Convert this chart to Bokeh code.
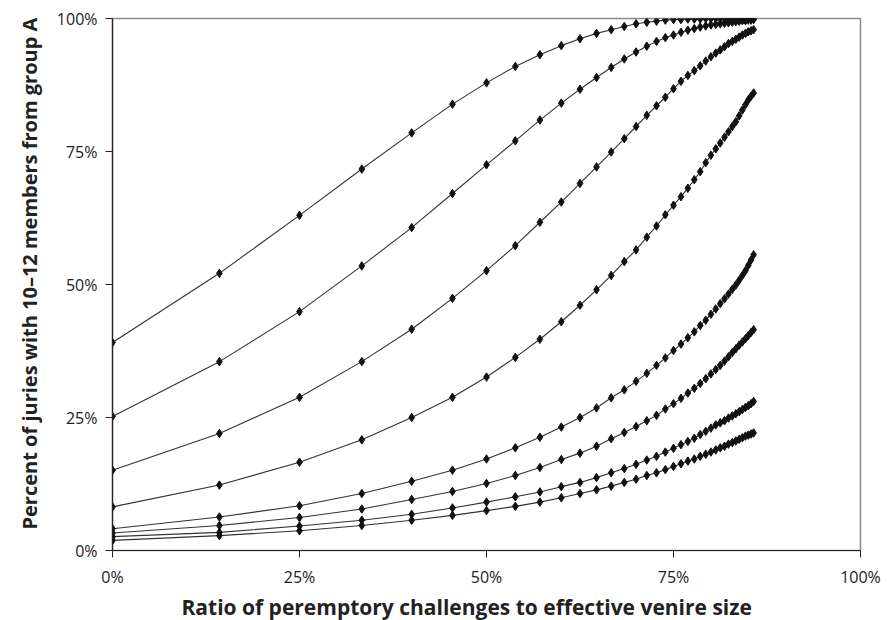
from bokeh.plotting import figure
from bokeh.models import NumeralTickFormatter, FixedTicker, ColumnDataSource, Range1d, Title
from bokeh.embed import file_html
from bokeh.resources import INLINE

# x: ratio of peremptory challenges to effective venire size
ratio = [0, 0.1429, 0.25, 0.3333, 0.4, 0.4545, 0.5, 0.5385, 0.5714, 0.6,
         0.625, 0.6471, 0.6667, 0.6842, 0.7, 0.7143, 0.7273, 0.7391, 0.75, 0.76,
         0.7692, 0.7778, 0.7857, 0.7931, 0.8, 0.8065, 0.8125, 0.8182, 0.8235, 0.8286,
         0.8333, 0.8378, 0.8421, 0.8462, 0.85, 0.8537, 0.8571]

curve_1 = [0.391, 0.521, 0.630, 0.717, 0.785, 0.839, 0.879, 0.910, 0.932, 0.949,
           0.962, 0.972, 0.979, 0.985, 0.990, 0.993, 0.995, 0.997, 0.998, 0.998,
           0.999, 0.999, 0.999, 1.0, 1.0, 1.0, 1.0, 1.0, 1.0, 1.0,
           1.0, 1.0, 1.0, 1.0, 1.0, 1.0, 1.0]
curve_2 = [0.252, 0.355, 0.449, 0.535, 0.607, 0.671, 0.725, 0.770, 0.809, 0.841,
           0.867, 0.889, 0.908, 0.924, 0.937, 0.948, 0.957, 0.964, 0.969, 0.974,
           0.978, 0.981, 0.984, 0.986, 0.988, 0.989, 0.990, 0.991, 0.992, 0.993,
           0.994, 0.995, 0.996, 0.996, 0.997, 0.997, 0.998]
curve_3 = [0.151, 0.220, 0.288, 0.355, 0.416, 0.474, 0.526, 0.573, 0.617, 0.655,
           0.690, 0.721, 0.749, 0.774, 0.797, 0.818, 0.836, 0.852, 0.868, 0.882,
           0.893, 0.902, 0.911, 0.920, 0.928, 0.935, 0.941, 0.947, 0.953, 0.957,
           0.961, 0.965, 0.969, 0.972, 0.975, 0.977, 0.979]
curve_4 = [0.082, 0.123, 0.166, 0.208, 0.250, 0.288, 0.326, 0.363, 0.397, 0.430,
           0.461, 0.490, 0.517, 0.543, 0.565, 0.589, 0.610, 0.631, 0.649, 0.665,
           0.681, 0.697, 0.712, 0.729, 0.743, 0.755, 0.766, 0.777, 0.787, 0.797,
           0.806, 0.817, 0.828, 0.838, 0.847, 0.854, 0.860]
curve_5 = [0.041, 0.063, 0.084, 0.107, 0.130, 0.151, 0.172, 0.193, 0.213, 0.232,
           0.250, 0.268, 0.287, 0.302, 0.318, 0.333, 0.348, 0.362, 0.376, 0.388,
           0.400, 0.411, 0.423, 0.433, 0.444, 0.454, 0.464, 0.473, 0.482, 0.491,
           0.499, 0.508, 0.517, 0.526, 0.536, 0.546, 0.556]
curve_6 = [0.033, 0.047, 0.062, 0.078, 0.096, 0.111, 0.126, 0.141, 0.156, 0.171,
           0.183, 0.196, 0.210, 0.222, 0.233, 0.244, 0.254, 0.266, 0.276, 0.286,
           0.296, 0.305, 0.314, 0.323, 0.332, 0.340, 0.348, 0.356, 0.364, 0.372,
           0.379, 0.386, 0.392, 0.398, 0.404, 0.410, 0.415]
curve_7 = [0.026, 0.034, 0.046, 0.057, 0.068, 0.080, 0.091, 0.101, 0.110, 0.120,
           0.128, 0.137, 0.146, 0.154, 0.162, 0.170, 0.177, 0.185, 0.192, 0.199,
           0.205, 0.211, 0.218, 0.224, 0.230, 0.236, 0.240, 0.244, 0.249, 0.253,
           0.257, 0.261, 0.265, 0.269, 0.272, 0.276, 0.280]
curve_8 = [0.019, 0.028, 0.037, 0.047, 0.057, 0.066, 0.075, 0.083, 0.091, 0.099,
           0.107, 0.114, 0.121, 0.128, 0.134, 0.141, 0.146, 0.152, 0.158, 0.163,
           0.168, 0.172, 0.177, 0.181, 0.185, 0.189, 0.193, 0.196, 0.200, 0.203,
           0.206, 0.209, 0.212, 0.215, 0.217, 0.219, 0.221]

x_ticks = [0, 0.25, 0.5, 0.75, 1.0]
y_ticks = [0, 0.25, 0.5, 0.75, 1.0]

FONT = "Open Sans"

p = figure(width=889, height=620, output_backend="svg", toolbar_location=None,
           x_range=Range1d(0, 1), y_range=Range1d(0, 1),
           min_border_left=112, min_border_right=29, min_border_top=18, min_border_bottom=69)

p.xgrid.visible = False
p.ygrid.visible = False
p.outline_line_color = "#8a8a8a"
p.outline_line_width = 1.5

for ys in [curve_1, curve_2, curve_3, curve_4, curve_5, curve_6, curve_7, curve_8]:
    src = ColumnDataSource(dict(x=ratio, y=ys))
    p.line("x", "y", source=src, line_color="#333333", line_width=1.1)
    p.scatter("x", "y", source=src, marker="diamond", size=8.5,
              fill_color="#111111", line_color="#111111")

for ax in (p.xaxis[0], p.yaxis[0]):
    ax.formatter = NumeralTickFormatter(format="0%")
    ax.axis_line_color = "#222222"
    ax.axis_line_width = 1.2
    ax.major_tick_line_color = "#222222"
    ax.major_tick_in = 0
    ax.major_tick_out = 7
    ax.minor_tick_line_color = None
    ax.major_label_text_font = FONT
    ax.major_label_text_font_size = "16px"
    ax.major_label_text_color = "#222222"
    ax.major_label_text_line_height = 1.0
    ax.major_label_standoff = 8

p.xaxis.ticker = FixedTicker(ticks=x_ticks)
p.yaxis.ticker = FixedTicker(ticks=y_ticks)

y_title = Title(text="Percent of juries with 10\u201312 members from group A",
                align="left", offset=21, standoff=22,
                text_font=FONT, text_font_style="bold", text_font_size="20px",
                text_color="#222222", text_line_height=1.0)
p.add_layout(y_title, "left")

x_title = Title(text="Ratio of peremptory challenges to effective venire size",
                align="left", offset=69, standoff=0,
                text_font=FONT, text_font_style="bold", text_font_size="21px",
                text_color="#222222", text_line_height=1.0)
p.add_layout(x_title, "below")

open("out.html", "w").write(file_html(p, INLINE))
